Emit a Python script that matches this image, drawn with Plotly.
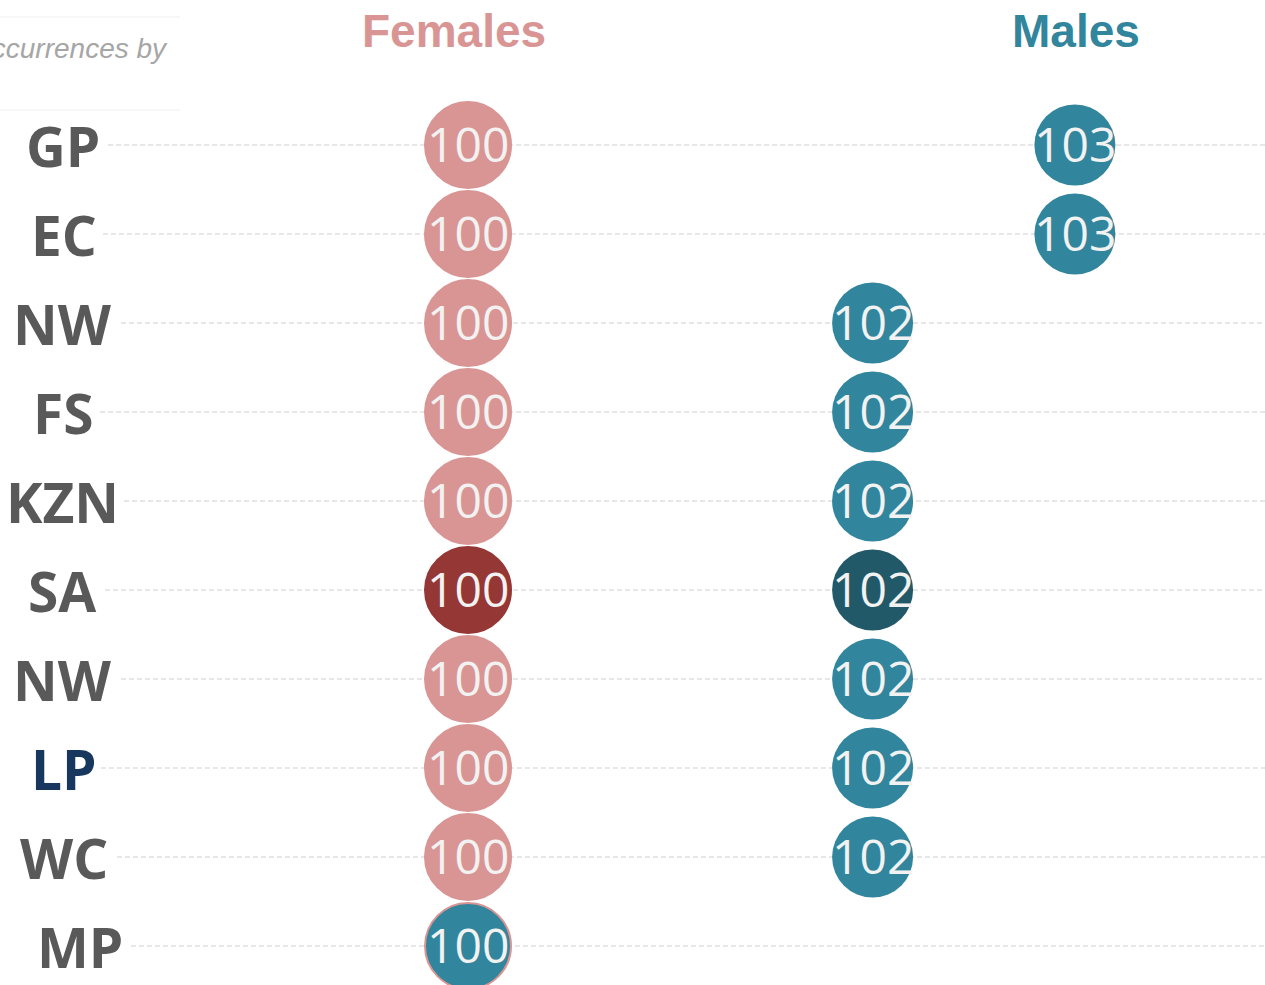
import plotly.graph_objects as go

regions = ["GP", "EC", "NW", "FS", "KZN", "SA", "NW", "LP", "WC", "MP"]
female_vals = [100, 100, 100, 100, 100, 100, 100, 100, 100, 100]
male_vals = [103, 103, 102, 102, 102, 102, 102, 102, 102, None]
label_colors = ["#595959"] * 7 + ["#17375E"] + ["#595959"] * 2
female_fill = ["#D99594"] * 5 + ["#953735"] + ["#D99594"] * 3 + ["#31859C"]
female_edge = ["#D99594"] * 5 + ["#953735"] + ["#D99594"] * 3 + ["#D99594"]
male_fill = ["#31859C"] * 5 + ["#215968"] + ["#31859C"] * 3 + ["#31859C"]

W, H = 1265, 985
px_per_unit = 202.3
x0 = 100 - 468 / px_per_unit
x1 = x0 + W / px_per_unit
row_px = 89
y_top = -145 / row_px
y_bot = 9 + (H - 946) / row_px
ypos = list(range(len(regions)))

# layout helpers (pixel positions of the row labels and where dashed guides start)
label_x = [63, 64, 63, 63, 62, 62, 63, 64, 64, 80]
guide_start = [108, 103, 121, 100, 124, 105, 121, 101, 117, 131]

fig = go.Figure()

shapes = []
for i, y in enumerate(ypos):
    shapes.append(dict(type="line", xref="paper", yref="y", x0=guide_start[i] / W, x1=1, y0=y, y1=y,
                       line=dict(color="#CFCFCF", width=1, dash="5px,3px"), layer="below"))
shapes += [
    dict(type="line", xref="paper", yref="paper", x0=0, x1=180 / W, y0=1 - 17 / H, y1=1 - 17 / H,
         line=dict(color="#EEEEEE", width=1)),
    dict(type="line", xref="paper", yref="paper", x0=0, x1=180 / W, y0=1 - 110 / H, y1=1 - 110 / H,
         line=dict(color="#EEEEEE", width=1)),
]

fig.add_trace(go.Scatter(
    x=female_vals, y=ypos, mode="markers",
    marker=dict(size=86, color=female_fill, line=dict(color=female_edge, width=2), opacity=1),
    hoverinfo="skip", showlegend=False, cliponaxis=False,
))

mx = [v for v in male_vals if v is not None]
my = [i for i, v in enumerate(male_vals) if v is not None]
mc = [male_fill[i] for i in my]
fig.add_trace(go.Scatter(
    x=mx, y=my, mode="markers",
    marker=dict(size=81, color=mc, line=dict(width=0)),
    hoverinfo="skip", showlegend=False, cliponaxis=False,
))

annotations = []
num_font = dict(family="Open Sans", size=48, color="#F2F2F2")
for xv, yv in zip(female_vals, ypos):
    annotations.append(dict(x=xv, y=yv, xref="x", yref="y", text=str(xv), showarrow=False,
                            xanchor="center", yanchor="middle", yshift=2, font=num_font))
for xv, yv in zip(mx, my):
    annotations.append(dict(x=xv, y=yv, xref="x", yref="y", text=str(xv), showarrow=False,
                            xanchor="center", yanchor="middle", yshift=2, font=num_font))

for i, r in enumerate(regions):
    annotations.append(dict(
        x=label_x[i] / W, xref="paper", y=i, yref="y", text=r, showarrow=False,
        xanchor="center", yanchor="middle",
        font=dict(family="Open Sans", size=55, color=label_colors[i], weight="bold"),
    ))

annotations.append(dict(x=454 / W, xref="paper", y=1 - 31 / H, yref="paper", text="Females",
                        showarrow=False, xanchor="center", yanchor="middle",
                        font=dict(family="Liberation Sans", size=46, color="#D99594", weight="bold")))
annotations.append(dict(x=1076 / W, xref="paper", y=1 - 31 / H, yref="paper", text="Males",
                        showarrow=False, xanchor="center", yanchor="middle",
                        font=dict(family="Liberation Sans", size=46, color="#31859C", weight="bold")))
annotations.append(dict(x=170 / W, xref="paper", y=1 - 48 / H, yref="paper", text="Occurrences by",
                        showarrow=False, xanchor="right", yanchor="middle",
                        font=dict(family="Liberation Sans", size=28, color="#A6A6A6", style="italic")))

fig.update_layout(
    width=W, height=H, margin=dict(l=0, r=0, t=0, b=0),
    paper_bgcolor="white", plot_bgcolor="white",
    xaxis=dict(range=[x0, x1], visible=False, fixedrange=True),
    yaxis=dict(range=[y_bot, y_top], visible=False, fixedrange=True),
    annotations=annotations, shapes=shapes,
)

fig.write_html("out.html", config={"displayModeBar": False},
               post_script="document.body.style.margin='0';")
